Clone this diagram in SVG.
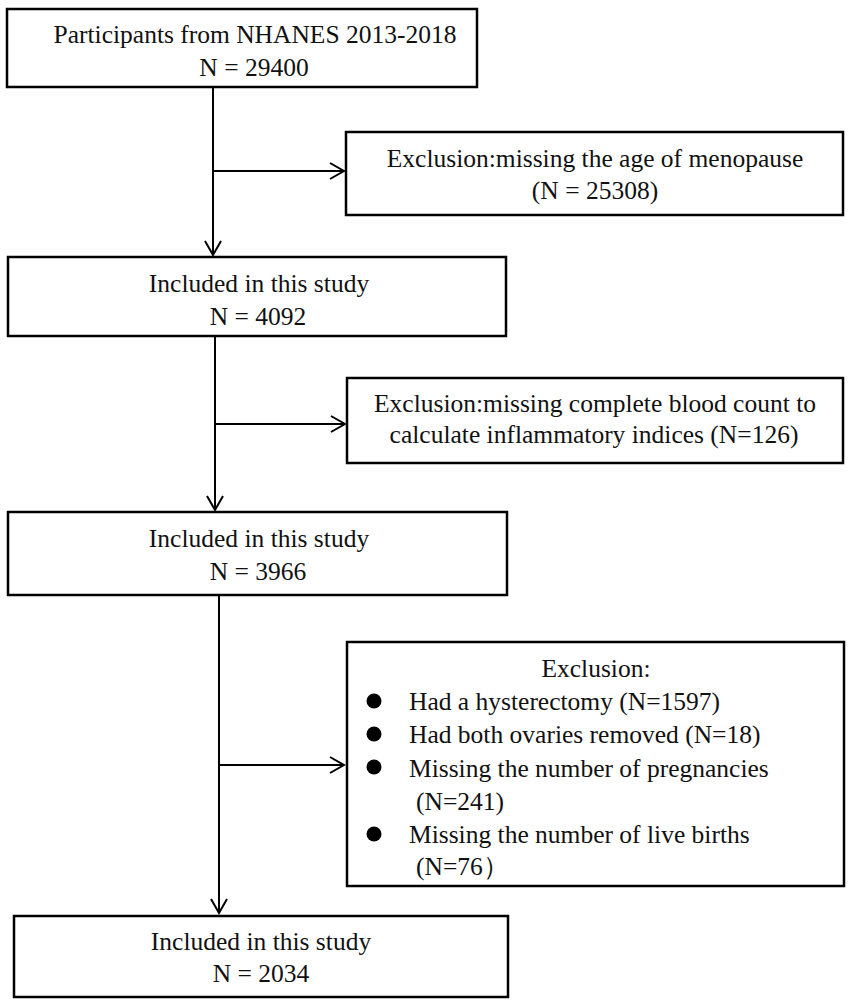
<svg xmlns="http://www.w3.org/2000/svg" width="851" height="1006" viewBox="0 0 851 1006">
<style>
.box{fill:#fff;stroke:#000;stroke-width:2.5}
.t{font-family:"Liberation Serif","Times New Roman",serif;font-size:25.5px;fill:#111}
.c{text-anchor:middle}
.ln{stroke:#000;stroke-width:2;fill:none;marker-end:url(#arr)}
</style>
<defs>
<marker id="arr" markerUnits="userSpaceOnUse" markerWidth="20" markerHeight="20" viewBox="0 0 20 20" refX="18" refY="10" orient="auto">
<path d="M4,2 L18,10 L4,18" stroke="#000" stroke-width="2" fill="none"/>
</marker>
</defs>
<rect width="851" height="1006" fill="#fff"/>
<g id="connectors">
<line class="ln" x1="213" y1="87" x2="213" y2="255"/>
<line class="ln" x1="213" y1="171" x2="344" y2="171"/>
<line class="ln" x1="215" y1="336" x2="215" y2="510"/>
<line class="ln" x1="215" y1="424" x2="345" y2="424"/>
<line class="ln" x1="219" y1="595" x2="219" y2="913"/>
<line class="ln" x1="219" y1="765" x2="344" y2="765"/>
</g>
<g id="n1">
<rect class="box" x="7" y="9" width="470" height="78"/>
<text class="t c" x="255" y="43">Participants from NHANES 2013-2018</text>
<text class="t c" x="254" y="76">N = 29400</text>
</g>
<g id="e1">
<rect class="box" x="346" y="132" width="497" height="83"/>
<text class="t c" x="595" y="167">Exclusion:missing the age of menopause</text>
<text class="t c" x="595" y="199">(N = 25308)</text>
</g>
<g id="n2">
<rect class="box" x="8" y="257" width="498" height="79"/>
<text class="t c" x="259" y="292">Included in this study</text>
<text class="t c" x="258" y="325">N = 4092</text>
</g>
<g id="e2">
<rect class="box" x="347" y="378" width="496" height="85"/>
<text class="t c" x="595" y="412">Exclusion:missing complete blood count to</text>
<text class="t c" x="594" y="443">calculate inflammatory indices (N=126)</text>
</g>
<g id="n3">
<rect class="box" x="8" y="512" width="499" height="83"/>
<text class="t c" x="259" y="547">Included in this study</text>
<text class="t c" x="258" y="580">N = 3966</text>
</g>
<g id="e3">
<rect class="box" x="347" y="642" width="497" height="244"/>
<text class="t c" x="596" y="677">Exclusion:</text>
<circle cx="374" cy="701" r="7.5"/>
<circle cx="374" cy="734" r="7.5"/>
<circle cx="374" cy="767" r="7.5"/>
<circle cx="374" cy="834" r="7.5"/>
<text class="t" x="409" y="710">Had a hysterectomy (N=1597)</text>
<text class="t" x="409" y="743">Had both ovaries removed (N=18)</text>
<text class="t" x="409" y="777">Missing the number of pregnancies</text>
<text class="t" x="416" y="810">(N=241)</text>
<text class="t" x="409" y="843">Missing the number of live births</text>
<text class="t" x="416" y="875">(N=76）</text>
</g>
<g id="n4">
<rect class="box" x="14" y="916" width="494" height="81"/>
<text class="t c" x="261" y="950">Included in this study</text>
<text class="t c" x="261" y="982">N = 2034</text>
</g>
</svg>
